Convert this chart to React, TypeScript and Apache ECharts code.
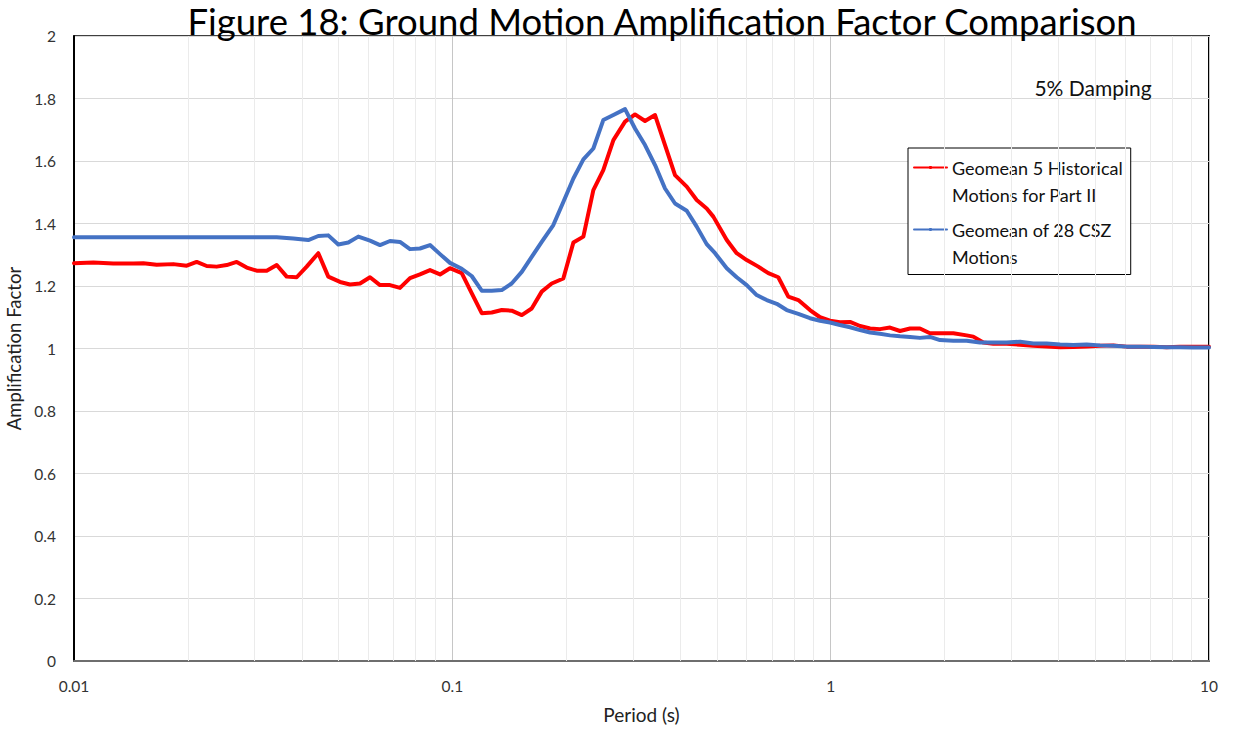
import React, { useEffect, useRef } from "react";
import * as echarts from "echarts";

// Period (s) and amplification factor, geomean of 5 historical motions (Part II)
const HIST_PERIOD = [
  0.01, 0.01125, 0.0127, 0.01435, 0.01525, 0.01654, 0.0183, 0.01986, 0.0211, 0.02243,
  0.02383, 0.02533, 0.02692, 0.02861, 0.0304, 0.03231, 0.03434, 0.03649, 0.03878, 0.04121,
  0.04423, 0.047, 0.05048, 0.05364, 0.05702, 0.06059, 0.06439, 0.06842, 0.07272, 0.07728,
  0.08212, 0.0873, 0.09278, 0.09858, 0.1059, 0.1125, 0.1196, 0.1271, 0.1351, 0.1435,
  0.1526, 0.1621, 0.1723, 0.1831, 0.1965, 0.2089, 0.222, 0.2359, 0.2506, 0.2665,
  0.2861, 0.304, 0.3231, 0.3434, 0.3649, 0.3878, 0.4164, 0.4425, 0.4702, 0.4896,
  0.5313, 0.5644, 0.5999, 0.6438, 0.6842, 0.7271, 0.7727, 0.8213, 0.8817, 0.9372,
  0.9959, 1.058, 1.125, 1.196, 1.271, 1.35, 1.435, 1.525, 1.621, 1.722,
  1.83, 1.945, 2.11, 2.288, 2.382, 2.532, 2.691, 2.92, 3.166, 3.433,
  3.724, 4.04, 4.379, 4.751, 5.151, 5.587, 6.061, 6.571, 7.126, 7.73,
  8.38, 9.087, 10,
];
const HIST_AF = [
  1.273, 1.275, 1.272, 1.272, 1.273, 1.268, 1.27, 1.265, 1.277, 1.264,
  1.262, 1.267, 1.277, 1.259, 1.249, 1.249, 1.267, 1.23, 1.228, 1.262,
  1.305, 1.23, 1.213, 1.205, 1.208, 1.228, 1.203, 1.203, 1.194, 1.225,
  1.237, 1.251, 1.237, 1.257, 1.241, 1.177, 1.113, 1.115, 1.123, 1.121,
  1.107, 1.128, 1.182, 1.208, 1.224, 1.339, 1.358, 1.507, 1.571, 1.667,
  1.726, 1.749, 1.728, 1.747, 1.651, 1.555, 1.518, 1.475, 1.448, 1.422,
  1.347, 1.305, 1.283, 1.262, 1.241, 1.228, 1.166, 1.155, 1.123, 1.1,
  1.089, 1.084, 1.085, 1.072, 1.064, 1.062, 1.067, 1.056, 1.064, 1.064,
  1.049, 1.049, 1.049, 1.042, 1.038, 1.019, 1.015, 1.015, 1.012, 1.009,
  1.006, 1.004, 1.005, 1.006, 1.009, 1.01, 1.006, 1.006, 1.006, 1.004,
  1.006, 1.006, 1.006,
];

// Period (s) and amplification factor, geomean of 28 CSZ motions
const CSZ_PERIOD = [
  0.01, 0.0127, 0.0165, 0.0211, 0.0269, 0.03434, 0.03799, 0.04161, 0.04423, 0.047,
  0.04995, 0.05309, 0.05643, 0.06059, 0.06439, 0.06842, 0.07272, 0.07728, 0.08212, 0.0873,
  0.09278, 0.09858, 0.1059, 0.1125, 0.1196, 0.1271, 0.1351, 0.1435, 0.1526, 0.1621,
  0.1723, 0.1849, 0.1965, 0.2089, 0.222, 0.2359, 0.2506, 0.2665, 0.2861, 0.304,
  0.3231, 0.3434, 0.3649, 0.3878, 0.4164, 0.4425, 0.4702, 0.4948, 0.5313, 0.5644,
  0.5999, 0.6375, 0.6776, 0.7202, 0.7653, 0.8213, 0.8817, 0.9372, 0.9959, 1.058,
  1.125, 1.196, 1.271, 1.35, 1.435, 1.525, 1.621, 1.722, 1.83, 1.945,
  2.11, 2.288, 2.481, 2.691, 2.92, 3.166, 3.433, 3.724, 4.04, 4.379,
  4.751, 5.151, 5.587, 6.061, 6.571, 7.126, 7.73, 8.38, 9.087, 10,
];
const CSZ_AF = [
  1.356, 1.356, 1.356, 1.356, 1.356, 1.356, 1.352, 1.347, 1.36, 1.362,
  1.333, 1.339, 1.358, 1.345, 1.331, 1.344, 1.341, 1.318, 1.32, 1.331,
  1.302, 1.274, 1.255, 1.232, 1.185, 1.185, 1.187, 1.208, 1.245, 1.293,
  1.341, 1.395, 1.469, 1.544, 1.605, 1.64, 1.731, 1.747, 1.766, 1.704,
  1.651, 1.587, 1.512, 1.464, 1.441, 1.39, 1.334, 1.305, 1.257, 1.228,
  1.203, 1.171, 1.155, 1.143, 1.123, 1.111, 1.097, 1.089, 1.083, 1.075,
  1.068, 1.059, 1.051, 1.047, 1.042, 1.039, 1.037, 1.034, 1.037, 1.027,
  1.025, 1.025, 1.019, 1.019, 1.019, 1.022, 1.016, 1.016, 1.013, 1.011,
  1.013, 1.01, 1.009, 1.006, 1.006, 1.005, 1.004, 1.004, 1.003, 1.003,
];

// Minor log gridlines (2..9 in each decade)
const MINOR_PERIODS = [
  0.02, 0.03, 0.04, 0.05, 0.06, 0.07, 0.08, 0.09,
  0.2, 0.3, 0.4, 0.5, 0.6, 0.7, 0.8, 0.9,
  2, 3, 4, 5, 6, 7, 8, 9,
];

const SERIES_NAMES = [
  "Geomean 5 Historical\nMotions for Part II",
  "Geomean of 28 CSZ\nMotions",
];
const TITLE = "Figure 18: Ground Motion Amplification Factor Comparison";
const NOTE = "5% Damping";

const FONT = "Lato, 'Noto Sans', sans-serif";

function zip(xs: number[], ys: number[]) {
  return xs.map((x, i) => [x, ys[i]]);
}

export default function App() {
  const ref = useRef<HTMLDivElement>(null);

  useEffect(() => {
    if (!ref.current) return;
    const chart = echarts.init(ref.current, null, { renderer: "svg" });
    chart.setOption({
      animation: false,
      backgroundColor: "#ffffff",
      textStyle: { fontFamily: FONT },
      grid: {
        left: 74,
        top: 36,
        width: 1135,
        height: 625,
        containLabel: false,
        outerBoundsMode: "none",
      },
      xAxis: [
        {
          type: "log",
          logBase: 10,
          min: 0.01,
          max: 10,
          name: "Period (s)",
          nameLocation: "middle",
          nameGap: 44,
          nameTextStyle: { fontSize: 19, color: "#222", fontFamily: FONT },
          axisLine: { show: true, lineStyle: { color: "#6e6e6e", width: 2 } },
          axisTick: { show: false },
          axisLabel: {
            fontSize: 15.5,
            color: "#333",
            margin: 17,
            fontFamily: FONT,
            formatter: (v: number) => String(+v.toPrecision(3)),
          },
          splitLine: { show: true, lineStyle: { color: "#c6c6c6", width: 1 } },
          z: 3,
        },
        {
          type: "log",
          logBase: 10,
          min: 0.01,
          max: 10,
          position: "top",
          axisLine: { show: true, onZero: false, lineStyle: { color: "#000", width: 1.5 } },
          axisTick: { show: false },
          axisLabel: { show: false },
          splitLine: { show: false },
        },
      ],
      yAxis: [
        {
          type: "value",
          min: 0,
          max: 2,
          interval: 0.2,
          name: "Amplification Factor",
          nameLocation: "middle",
          nameGap: 43,
          nameTextStyle: { fontSize: 18.5, color: "#222", fontFamily: FONT },
          axisLine: { show: true, onZero: false, lineStyle: { color: "#000", width: 2 } },
          axisTick: { show: false },
          axisLabel: { fontSize: 15.5, color: "#333", margin: 18, fontFamily: FONT },
          splitLine: { show: true, lineStyle: { color: "#d9d9d9", width: 1 } },
          z: 3,
        },
        {
          type: "value",
          min: 0,
          max: 2,
          interval: 0.2,
          position: "right",
          axisLine: { show: true, onZero: false, lineStyle: { color: "#000", width: 2 } },
          axisTick: { show: false },
          axisLabel: { show: false },
          splitLine: { show: false },
        },
      ],
      legend: {
        orient: "vertical",
        left: 908,
        top: 148,
        padding: [-21, 8, 4.5, 5],
        itemGap: -19,
        itemWidth: 33,
        itemHeight: 4,
        borderColor: "#000",
        borderWidth: 1,
        backgroundColor: "#fff",
        selectedMode: false,
        data: SERIES_NAMES,
        // leading blank line keeps the sample line level with the first text line
        formatter: (name: string) => "\n" + name,
        lineStyle: { cap: "round" },
        textStyle: {
          fontSize: 18,
          color: "#111",
          fontFamily: FONT,
          lineHeight: 27,
        },
      },
      graphic: [
        {
          type: "text",
          x: 662,
          y: 21,
          z: 100,
          style: {
            text: TITLE,
            fill: "#000",
            font: `36.5px ${FONT}`,
            align: "center",
            verticalAlign: "middle",
          },
        },
        {
          type: "text",
          x: 1093,
          y: 87,
          z: 100,
          style: {
            text: NOTE,
            fill: "#111",
            font: `21px ${FONT}`,
            align: "center",
            verticalAlign: "middle",
          },
        },
      ],
      series: [
        {
          type: "line",
          name: "minor-grid",
          data: [],
          silent: true,
          z: 1,
          markLine: {
            silent: true,
            symbol: "none",
            label: { show: false },
            lineStyle: { color: "#ebebeb", width: 1, type: "solid" },
            data: MINOR_PERIODS.map((p) => ({ xAxis: p })),
          },
        },
        {
          type: "line",
          name: SERIES_NAMES[0],
          data: zip(HIST_PERIOD, HIST_AF),
          symbol: "none",
          z: 5,
          lineStyle: { color: "#ff0000", width: 4, join: "round", cap: "round" },
          itemStyle: { color: "#ff0000" },
        },
        {
          type: "line",
          name: SERIES_NAMES[1],
          data: zip(CSZ_PERIOD, CSZ_AF),
          symbol: "none",
          z: 6,
          lineStyle: { color: "#4472c4", width: 4, join: "round", cap: "round" },
          itemStyle: { color: "#4472c4" },
        },
      ],
    });
    return () => chart.dispose();
  }, []);

  return (
    <div
      ref={ref}
      style={{ position: "fixed", left: 0, top: 0, width: 1234, height: 730, background: "#fff" }}
    />
  );
}
